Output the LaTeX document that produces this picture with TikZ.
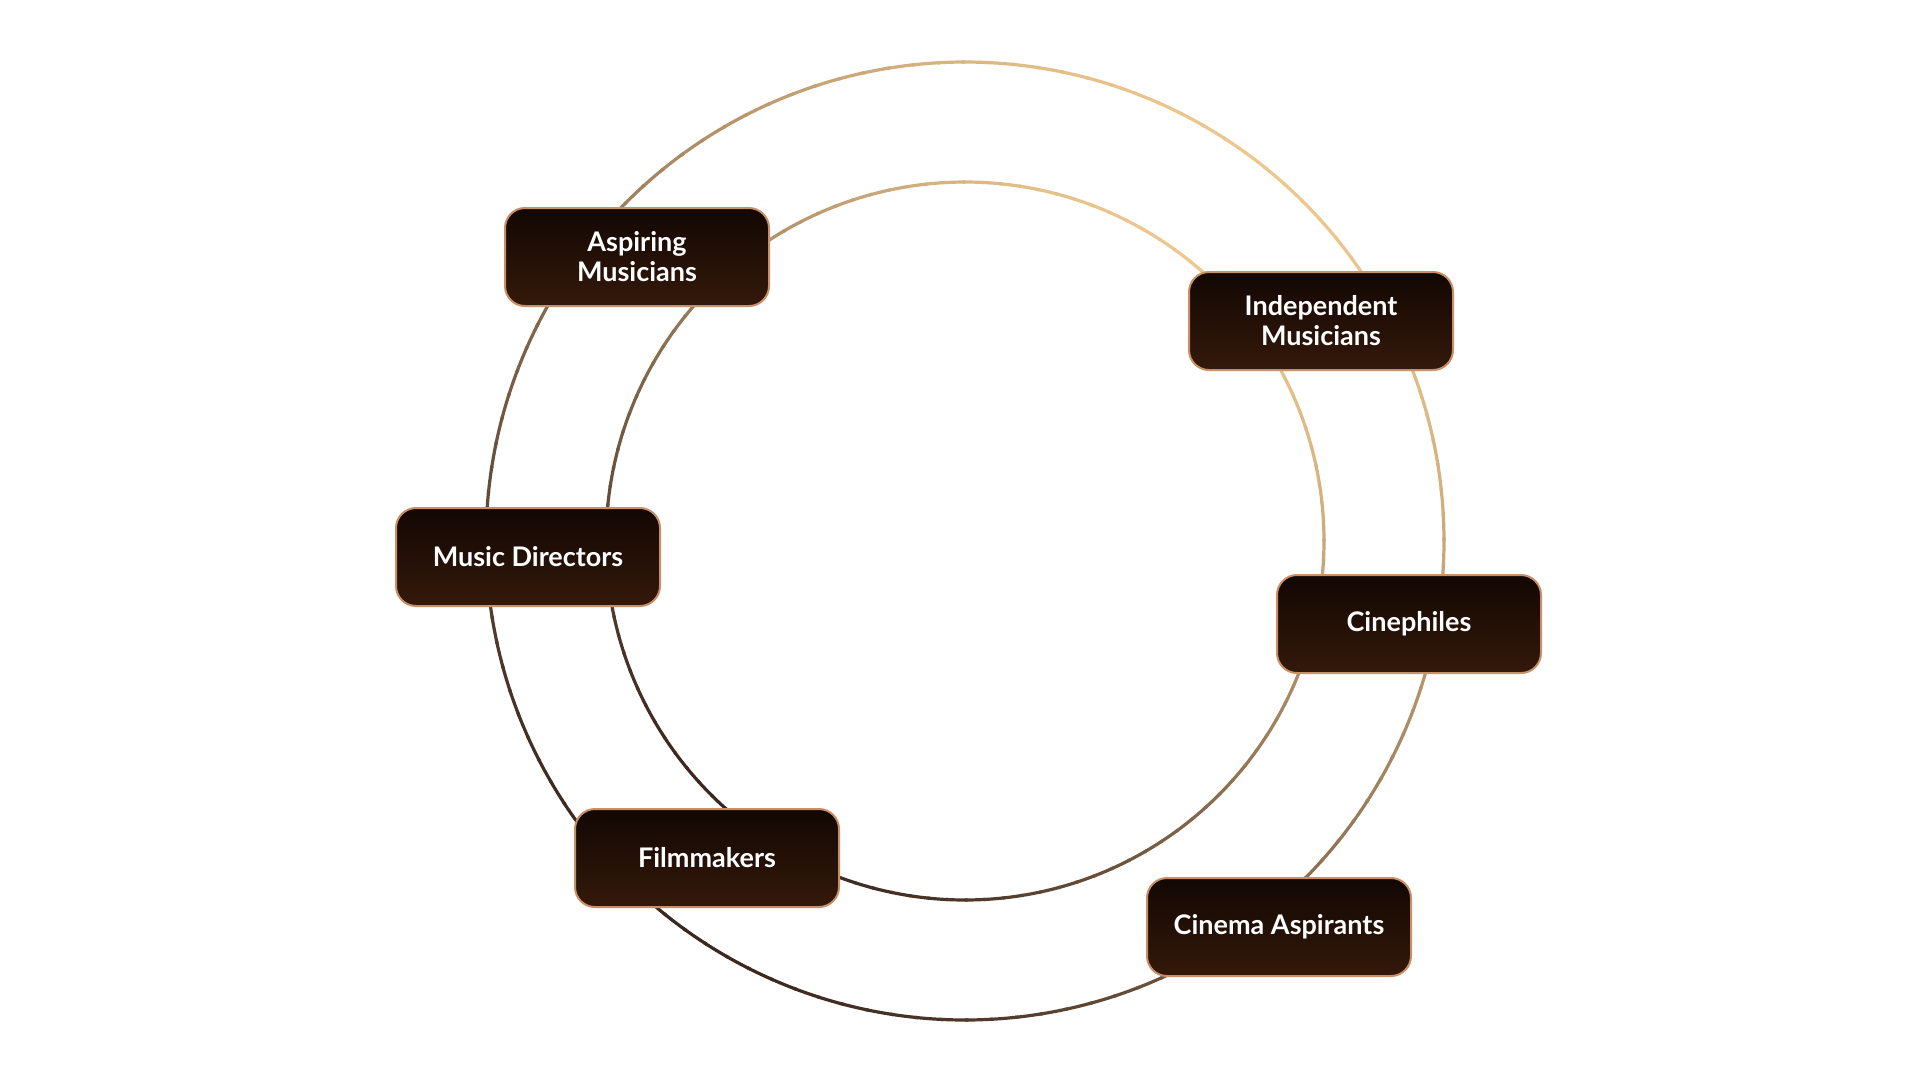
\documentclass[tikz,border=0pt]{standalone}
\usepackage{fontspec}
\usetikzlibrary{calc}
\setmainfont{Lato}
\begin{document}
\begin{tikzpicture}[x=1pt,y=-1pt,
  ring/.style={line width=3.2pt},
  audience/.style={rectangle, rounded corners=20pt, minimum width=264pt, minimum height=98pt,
    draw=copper, line width=2pt, top color=nodetop, bottom color=nodebot,
    text=white, align=center, font=\fontsize{27}{30}\selectfont\bfseries, inner sep=0pt}]
\definecolor{gold}{HTML}{EDC78E}
\definecolor{darkbrown}{HTML}{3A271E}
\definecolor{copper}{HTML}{C98F68}
\definecolor{nodetop}{HTML}{120703}
\definecolor{nodebot}{HTML}{34190A}
\useasboundingbox[fill=white] (0,0) rectangle (1920,1080);
% outer and inner rings, coloured by angle (gold top right, dark bottom left)
\coordinate (c) at (965,541);
\foreach \a in {0,3,...,357}{
  \pgfmathsetmacro{\m}{100*(1+cos(\a-50))/2}
  \draw[ring, color=gold!\m!darkbrown] ($(c)+(\a:479 and -479)$) arc[start angle=-\a, end angle=-\a-3.4, radius=479];
  \draw[ring, color=gold!\m!darkbrown] ($(c)+(\a:359 and -359)$) arc[start angle=-\a, end angle=-\a-3.4, radius=359];
}
\node[audience] (asp) at (637,257) {Aspiring\\Musicians};
\node[audience] (ind) at (1321,321) {Independent\\Musicians};
\node[audience] (mus) at (528,557) {Music Directors};
\node[audience] (cin) at (1409,624) {Cinephiles};
\node[audience] (fil) at (707,858) {Filmmakers};
\node[audience] (asc) at (1279,927) {Cinema Aspirants};
\end{tikzpicture}
\end{document}
